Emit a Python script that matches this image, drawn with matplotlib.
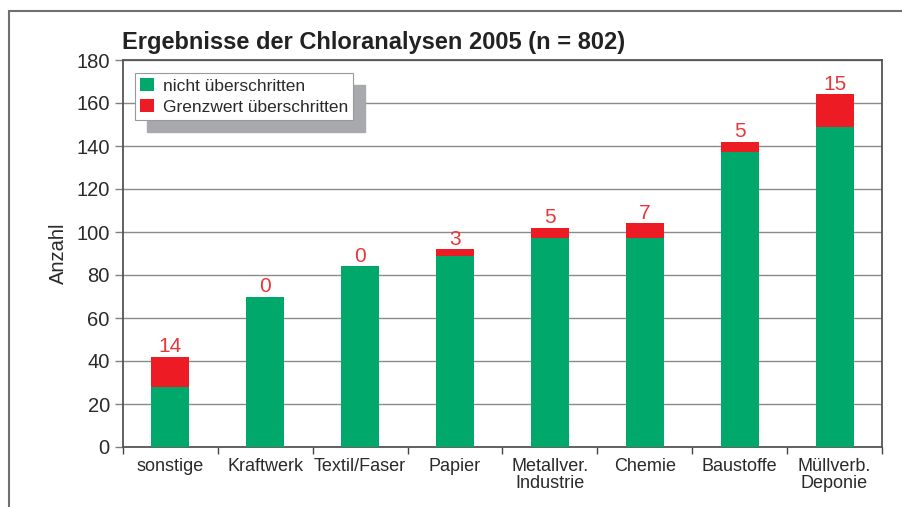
import numpy as np
import matplotlib.pyplot as plt
from matplotlib.patches import Rectangle

plt.rcParams["font.family"] = ["Liberation Sans", "DejaVu Sans"]

# Daten
kategorien = ["sonstige", "Kraftwerk", "Textil/Faser", "Papier",
              "Metallver.\nIndustrie", "Chemie", "Baustoffe", "Müllverb.\nDeponie"]
nicht_ueberschritten = [28, 70, 84, 89, 97, 97, 137, 149]
ueberschritten = [14, 0, 0, 3, 5, 7, 5, 15]

gruen = "#00a96b"
rot = "#ed1c24"

fig = plt.figure(figsize=(9.03, 5.07), dpi=100)
ax = fig.add_axes([123 / 903, 1 - 447 / 507, 759 / 903, 387 / 507])

# aeusserer Rahmen
fig.patches.append(Rectangle((9 / 903, -0.1), 1.2, 1 - 11 / 507 + 0.1,
                             transform=fig.transFigure, fill=False,
                             edgecolor="#707070", linewidth=1.5))

x = np.arange(len(kategorien))
ax.bar(x, nicht_ueberschritten, width=0.4, color=gruen, zorder=3,
       label="nicht überschritten")
ax.bar(x, ueberschritten, width=0.4, bottom=nicht_ueberschritten, color=rot,
       zorder=3, label="Grenzwert überschritten")

for xi, g, r in zip(x, nicht_ueberschritten, ueberschritten):
    ax.text(xi, g + r + 0.3, str(r), ha="center", va="bottom", color="#e8373a",
            fontsize=15)

ax.set_xlim(-0.5, len(kategorien) - 0.5)
ax.set_ylim(0, 180)
ax.set_yticks(range(0, 181, 20))
ax.tick_params(axis="y", labelsize=14.5, colors="#808080", labelcolor="#2a2a2a",
               length=6, width=1)
ax.set_xticks(x)
ax.set_xticklabels(kategorien, fontsize=13, color="#2a2a2a", linespacing=1.0)
ax.tick_params(axis="x", length=0, pad=8)
ax.set_xticks(np.arange(-0.5, len(kategorien), 1), minor=True)
ax.tick_params(axis="x", which="minor", length=5, width=1, color="#444444")

ax.yaxis.grid(True, color="#8a8a8a", linewidth=1, zorder=0)
for s in ax.spines.values():
    s.set_color("#555555")
    s.set_linewidth(1.3)

ax.set_ylabel("Anzahl", fontsize=14.5, color="#2a2a2a", labelpad=6)

fig.text(122 / 903, 1 - 43 / 507, "Ergebnisse der Chloranalysen 2005 (n = 802)",
         fontsize=17, fontweight="bold", color="#222222", va="center")

# Legende mit grauem Schatten
leg = ax.legend(loc="upper left", bbox_to_anchor=(12 / 759, 1 - 13 / 387),
                prop={"size": 12.5},
                frameon=True, fancybox=False, framealpha=1, edgecolor="#999999",
                handlelength=0.8, handleheight=0.8, handletextpad=0.5,
                borderpad=0.3, labelspacing=0.3, borderaxespad=0)
leg.get_frame().set_linewidth(0.8)
leg.set_zorder(5)
for t in leg.get_texts():
    t.set_color("#2a2a2a")
fig.canvas.draw()
bb = leg.get_window_extent().transformed(ax.transAxes.inverted())
ax.add_patch(Rectangle((bb.x0 + 12 / 759, bb.y0 - 12 / 387), bb.width, bb.height,
                       transform=ax.transAxes, color="#a7a9ac", zorder=4,
                       clip_on=False))

fig.savefig("out.png", dpi=100)
